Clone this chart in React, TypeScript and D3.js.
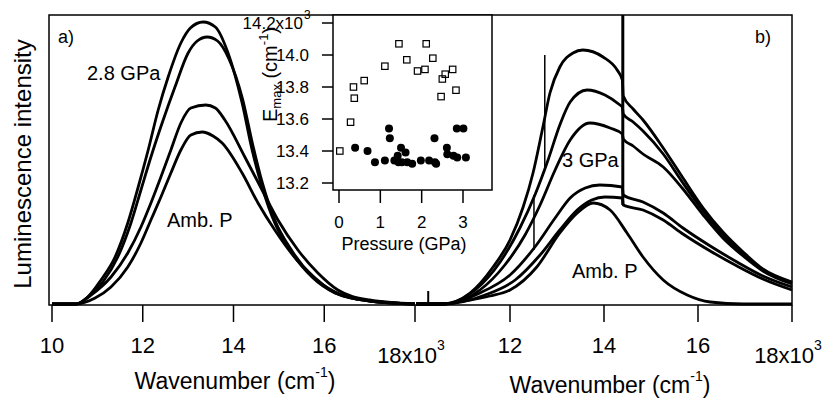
import React from 'react';
import * as d3 from 'd3';

const FONT = "'Liberation Sans', Arial, Helvetica, sans-serif";

// ---- Panel a) spectra: [wavenumber (10^3 cm^-1), intensity (a.u.)]
const a28GPa: number[][] = [[10.0,0],[10.53,0],[10.79,7],[11.08,24],[11.39,47],[11.67,81],[11.90,117],[12.12,154],[12.34,194],[12.56,227],[12.84,261],[13.05,276],[13.33,282],[13.6,277],[13.88,251],[14.19,201],[14.41,154],[14.63,117],[14.91,81],[15.29,51],[15.73,27],[16.24,11],[17.0,3],[18.0,0]];
const aCurve2: number[][] = [[10.0,0],[10.53,0],[10.79,7],[11.12,22],[11.45,47],[11.74,81],[11.96,114],[12.18,147],[12.45,184],[12.71,217],[13.0,251],[13.2,263],[13.42,267],[13.65,263],[13.9,245],[14.2,205],[14.42,160],[14.63,122],[14.91,84],[15.29,53],[15.73,28],[16.24,12],[17.0,3],[18.0,0]];
const aCurve3: number[][] = [[10.0,0],[10.53,0],[10.86,9],[11.30,27],[11.67,51],[11.96,77],[12.18,101],[12.40,127],[12.62,154],[12.84,181],[13.06,196],[13.39,199],[13.6,196],[13.81,184],[14.25,147],[14.63,114],[14.98,84],[15.42,54],[15.86,31],[16.30,14],[17.0,4],[18.0,0]];
const aAmbP: number[][] = [[10.0,0],[10.53,0],[10.95,6],[11.30,17],[11.67,37],[11.96,61],[12.18,84],[12.40,107],[12.62,131],[12.84,154],[13.06,169],[13.31,172],[13.55,168],[13.75,161],[14.19,131],[14.54,101],[14.91,74],[15.36,46],[15.80,26],[16.24,11],[17.0,3],[18.0,0]];

// ---- Panel b) spectra
const b3GPa: number[][] = [[10.0,0],[10.55,0],[11.15,11],[11.64,37],[12.0,64],[12.28,97],[12.49,131],[12.70,177],[12.85,211],[13.06,237],[13.34,251],[13.55,254],[13.98,247],[14.28,234],[14.39,224],[14.41,208],[14.62,195],[14.83,184],[15.26,156],[15.68,126],[16.11,96],[16.53,72],[16.96,52],[17.38,35],[18.0,22]];
const bCurve2: number[][] = [[10.0,0],[10.6,0],[11.26,14],[11.79,42],[12.21,76],[12.53,109],[12.81,144],[13.06,179],[13.28,202],[13.64,214],[14.02,209],[14.34,199],[14.39,197],[14.41,190],[14.62,182],[14.83,173],[15.26,150],[15.68,121],[16.11,93],[16.53,69],[16.96,50],[17.38,34],[18.0,21]];
const bCurve3: number[][] = [[10.0,0],[10.6,0],[11.36,14],[11.89,39],[12.32,69],[12.64,99],[12.96,134],[13.28,164],[13.70,181],[14.13,176],[14.39,170],[14.41,165],[14.62,158],[14.83,150],[15.26,137],[15.68,115],[16.11,89],[16.53,66],[16.96,48],[17.38,33],[18.0,20]];
const bCurve4: number[][] = [[10.0,0],[10.6,0],[11.36,11],[12.0,29],[12.53,57],[12.96,86],[13.28,106],[13.60,116],[13.91,119],[14.39,117],[14.41,109],[14.83,102],[15.26,91],[15.68,76],[16.26,58],[16.83,42],[17.38,28],[18.0,17]];
const bCurve5: number[][] = [[10.0,0],[10.6,0],[11.47,9],[12.11,24],[12.64,49],[13.06,74],[13.43,94],[13.74,104],[14.02,107],[14.39,106],[14.41,99],[14.83,94],[15.26,84],[15.68,70],[16.26,53],[16.83,38],[17.38,25],[18.0,14]];
const bAmbP: number[][] = [[10.0,0],[10.5,0],[11.15,4],[11.57,8],[12.0,14],[12.57,37],[13.06,71],[13.43,91],[13.77,101],[14.13,94],[14.49,71],[14.83,47],[15.26,24],[15.77,9],[16.26,2],[16.96,0],[18.0,0]];

// spikes in panel b: wavenumber, intensity from, intensity to
const spikeW = [14.40, 12.74, 12.51, 10.26];
const spikeFrom = [99, 137, 54, 0];
const spikeTo = [289, 249, 109, 13];

// ---- Axis ticks
const aTicks = [10, 12, 14, 16, 18];
const bTicks = [12, 14, 16, 18];

// ---- Inset: E_max vs pressure
const sqP = [0.02,0.28,0.35,0.37,0.61,1.11,1.45,1.64,1.90,2.08,2.11,2.27,2.47,2.50,2.57,2.75,2.83];
const sqE = [13.40,13.58,13.80,13.73,13.84,13.93,14.07,13.97,13.90,13.91,14.07,13.98,13.74,13.85,13.88,13.91,13.78];
const ciP = [0.39,0.69,0.87,1.11,1.21,1.23,1.34,1.42,1.50,1.44,1.52,1.61,1.65,1.77,1.98,2.18,2.31,2.32,2.35,2.61,2.62,2.77,2.86,2.85,3.01,3.07];
const ciE = [13.42,13.40,13.33,13.34,13.54,13.48,13.34,13.37,13.42,13.33,13.33,13.39,13.33,13.32,13.34,13.34,13.48,13.33,13.32,13.42,13.38,13.37,13.36,13.54,13.54,13.36];
const insetXTicks = [0, 1, 2, 3];
const insetYTicks = [13.2, 13.4, 13.6, 13.8, 14.0, 14.2];

export default function App() {
  const xA = d3.scaleLinear().domain([10, 18]).range([52, 415]);
  const xB = d3.scaleLinear().domain([10, 18]).range([416, 792]);
  const y = d3.scaleLinear().domain([0, 289]).range([304, 15]);
  const lineA = d3.line<number[]>().x(d => xA(d[0])).y(d => y(d[1])).curve(d3.curveMonotoneX);
  const lineB = d3.line<number[]>().x(d => xB(d[0])).y(d => y(d[1])).curve(d3.curveMonotoneX);

  const xI = d3.scaleLinear().domain([0, 3]).range([339, 463]);
  const yI = d3.scaleLinear().domain([13.2, 14.2]).range([183, 23]);
  const box = { x0: 333, x1: 492, y0: 15, y1: 190 };

  const axisY = 305;
  const spikeWidths = [3, 1.5, 1.5, 2];

  return (
    <svg width={833} height={401} style={{ position: 'absolute', left: 0, top: 0, background: '#fff' }} fontFamily={FONT}>
      <rect x={0} y={0} width={833} height={401} fill="#fff" />
      {/* spectra */}
      <g fill="none" stroke="#000" strokeWidth={2.8} strokeLinejoin="round">
        {[a28GPa, aCurve2, aCurve3, aAmbP].map((c, i) => <path key={'a' + i} d={lineA(c) || ''} />)}
        {[b3GPa, bCurve2, bCurve3, bCurve4, bCurve5, bAmbP].map((c, i) => <path key={'b' + i} d={lineB(c) || ''} />)}
      </g>
      {spikeW.map((w, i) => (
        <line key={'s' + i} x1={xB(w)} x2={xB(w)} y1={y(spikeFrom[i])} y2={y(spikeTo[i])} stroke="#000" strokeWidth={spikeWidths[i]} />
      ))}
      {/* frame */}
      <rect x={49} y={15} width={792 - 49} height={axisY - 15} fill="none" stroke="#000" strokeWidth={1.5} />
      {/* ticks */}
      {aTicks.map(t => <line key={'at' + t} x1={xA(t)} x2={xA(t)} y1={axisY} y2={322} stroke="#000" strokeWidth={1.5} />)}
      {bTicks.map(t => <line key={'bt' + t} x1={xB(t)} x2={xB(t)} y1={axisY} y2={322} stroke="#000" strokeWidth={1.5} />)}
      <g fontSize={22} textAnchor="middle" fill="#000">
        {aTicks.slice(0, -1).map(t => <text key={'al' + t} x={xA(t)} y={353}>{t}</text>)}
        {bTicks.slice(0, -1).map(t => <text key={'bl' + t} x={xB(t)} y={353}>{t}</text>)}
        <text x={xA(18) - 4} y={363}>18x10<tspan fontSize={14} dy={-13}>3</tspan></text>
        <text x={xB(18) - 4} y={363}>18x10<tspan fontSize={14} dy={-13}>3</tspan></text>
      </g>
      <g fontSize={23} textAnchor="middle" fill="#000">
        <text x={235} y={389}>Wavenumber (cm<tspan fontSize={14} dy={-12}>-1</tspan><tspan dy={12}>)</tspan></text>
        <text x={610} y={393}>Wavenumber (cm<tspan fontSize={14} dy={-12}>-1</tspan><tspan dy={12}>)</tspan></text>
      </g>
      <text transform="translate(31,164) rotate(-90)" textAnchor="middle" fontSize={24}>Luminescence intensity</text>

      {/* annotations */}
      <g fontSize={20} fill="#000">
        <text x={58} y={43} fontSize={18}>a)</text>
        <text x={755} y={43} fontSize={18}>b)</text>
        <text x={87} y={80}>2.8 GPa</text>
        <text x={167} y={227}>Amb. P</text>
        <text x={562} y={167}>3 GPa</text>
        <text x={572} y={278}>Amb. P</text>
      </g>

      {/* inset */}
      <rect x={box.x0} y={box.y0} width={box.x1 - box.x0} height={box.y1 - box.y0} fill="#fff" stroke="#000" strokeWidth={1.5} />
      {insetYTicks.map(t => <line key={'iy' + t} x1={322} x2={box.x0} y1={yI(t)} y2={yI(t)} stroke="#000" strokeWidth={1.5} />)}
      {insetXTicks.map(t => <line key={'ix' + t} x1={xI(t)} x2={xI(t)} y1={box.y1} y2={203} stroke="#000" strokeWidth={1.5} />)}
      <g fontSize={17} fill="#000">
        {insetYTicks.slice(0, -1).map(t => <text key={'iyl' + t} x={309} y={yI(t) + 6} textAnchor="end">{t.toFixed(1)}</text>)}
        <text x={303} y={yI(14.2) + 6} textAnchor="end">14.2x10</text>
        <text x={304} y={yI(14.2) - 4} fontSize={12}>3</text>
        {insetXTicks.map(t => <text key={'ixl' + t} x={xI(t)} y={228} textAnchor="middle">{t}</text>)}
        <text x={404} y={250} textAnchor="middle" fontSize={18}>Pressure (GPa)</text>
      </g>
      <text transform="translate(277,122) rotate(-90)" fontSize={20}>E<tspan fontSize={13} dy={4}>max</tspan><tspan dy={-4}> (cm</tspan><tspan fontSize={13} dy={-9}>-1</tspan><tspan dy={9}>)</tspan></text>
      <g fill="none" stroke="#000" strokeWidth={1.2}>
        {sqP.map((p, i) => <rect key={'sq' + i} x={xI(p) - 3.2} y={yI(sqE[i]) - 3.2} width={6.4} height={6.4} />)}
      </g>
      <g fill="#000">
        {ciP.map((p, i) => <circle key={'ci' + i} cx={xI(p)} cy={yI(ciE[i])} r={4} />)}
      </g>
    </svg>
  );
}
